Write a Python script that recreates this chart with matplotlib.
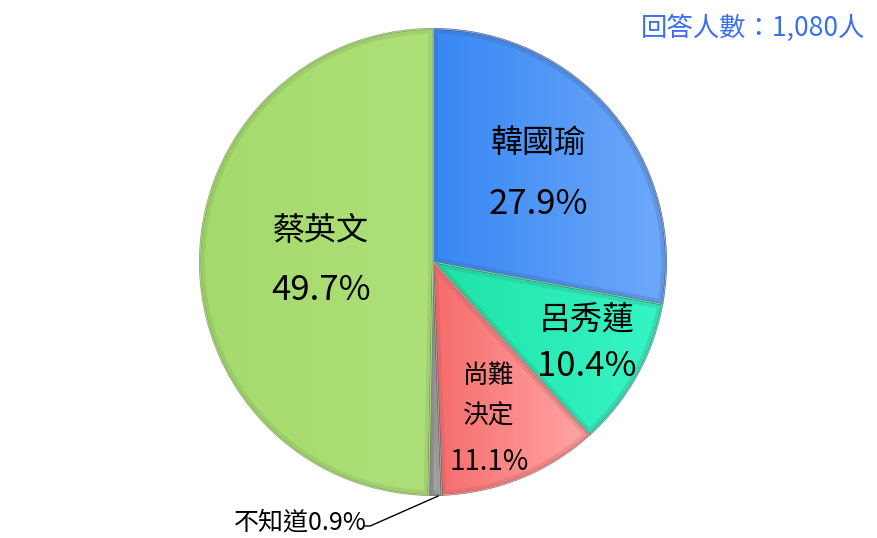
import numpy as np
import matplotlib
matplotlib.use('Agg')
import matplotlib.pyplot as plt
from matplotlib.colors import LinearSegmentedColormap
from matplotlib.patches import PathPatch

plt.rcParams['font.family'] = ['Noto Sans CJK TC', 'DejaVu Sans']

# survey result data
names = ['韓國瑜', '呂秀蓮', '尚難\n決定', '不知道', '蔡英文']
values = [27.9, 10.4, 11.1, 0.9, 49.7]
title_text = '回答人數：1,080人'

# gradient colours (left -> right) and rim colours per slice
grads = [('#3787f3', '#6ea9fa'),
         ('#1fe3a6', '#36f5c6'),
         ('#f76b6b', '#ffa6a6'),
         ('#8e8e8e', '#c4c4c4'),
         ('#a4da6c', '#aee07a')]
rims = ['#3f62a0', '#2f9a7c', '#b86060', '#606060', '#7ea550']

W, H = 878, 538
fig = plt.figure(figsize=(W / 100, H / 100), dpi=100)
ax = fig.add_axes([0, 0, 1, 1])
ax.set_xlim(0, W)
ax.set_ylim(0, H)
ax.axis('off')

cx, cy, R = 433, H - 262, 233
explode = [0.012, 0.004, 0.004, 0.0, 0.006]
wedges, _ = ax.pie(values, center=(cx, cy), radius=R, startangle=90,
                   counterclock=False, explode=explode,
                   wedgeprops=dict(linewidth=0), frame=True)

for w, (c0, c1), rim in zip(wedges, grads, rims):
    w.set_facecolor(c0)
    ext = w.get_path().get_extents()
    cmap = LinearSegmentedColormap.from_list('g', [c0, c1])
    grad = np.linspace(0, 1, 256).reshape(1, -1)
    im = ax.imshow(grad, cmap=cmap, aspect='auto', interpolation='bilinear',
                   extent=[ext.x0, ext.x1, ext.y0, ext.y1], zorder=2)
    im.set_clip_path(w)
    # soft bevel along the inside of the slice
    bevel = PathPatch(w.get_path(), fc='none', ec=rim, lw=7, alpha=0.25, zorder=3)
    ax.add_patch(bevel)
    bevel.set_clip_path(w)
    ax.add_patch(PathPatch(w.get_path(), fc='none', ec=rim, lw=1.4, zorder=3))
    ax.add_patch(PathPatch(w.get_path(), fc='none', ec='white', lw=0.5,
                           alpha=0.6, zorder=3))

ax.set_xlim(0, W)
ax.set_ylim(0, H)
ax.set_aspect('equal')

# in-slice labels: distance (fraction of R), angle tweak, sizes, gap name->pct
dist = [0.59, 0.745, 0.756, None, 0.48]
dang = [0, 1.5, -3.6, 0, 0]
name_size = [23, 23, 18.5, None, 23]
pct_size = [25, 25, 20, None, 25]
gap = [61, 47, 66, None, 60]
theta = np.radians(90 - 3.6 * (np.cumsum(values) - np.array(values) / 2))
for i, (n, v) in enumerate(zip(names, values)):
    if dist[i] is None:
        continue
    t = theta[i] + np.radians(dang[i])
    x = cx + dist[i] * R * np.cos(t)
    y = cy + dist[i] * R * np.sin(t)
    ax.text(x, y + gap[i] / 2, n, ha='center', va='center', fontsize=name_size[i],
            linespacing=1.75, fontweight='medium', color='black', zorder=5)
    ax.text(x, y - gap[i] / 2, f'{v}%', ha='center', va='center',
            fontsize=pct_size[i], fontweight='medium', color='black', zorder=5)

# small slice: leader line to label
px = cx + R * np.cos(theta[3]) + 3
py = cy + R * np.sin(theta[3]) - 1
lx, ly = px - 68, py - 30
ax.plot([lx - 6, lx, px], [ly, ly, py], color='black', lw=1, zorder=5)
ax.text(lx - 3, ly - 3, f'{names[3]}{values[3]}%', ha='right', va='baseline',
        fontsize=18, fontweight='medium', color='black', zorder=5)

fig.text(865 / W, 1 - 28 / H, title_text, ha='right', va='center',
         fontsize=19, fontweight='medium', color='#3b6ff0')

fig.savefig('out.png', dpi=100)
